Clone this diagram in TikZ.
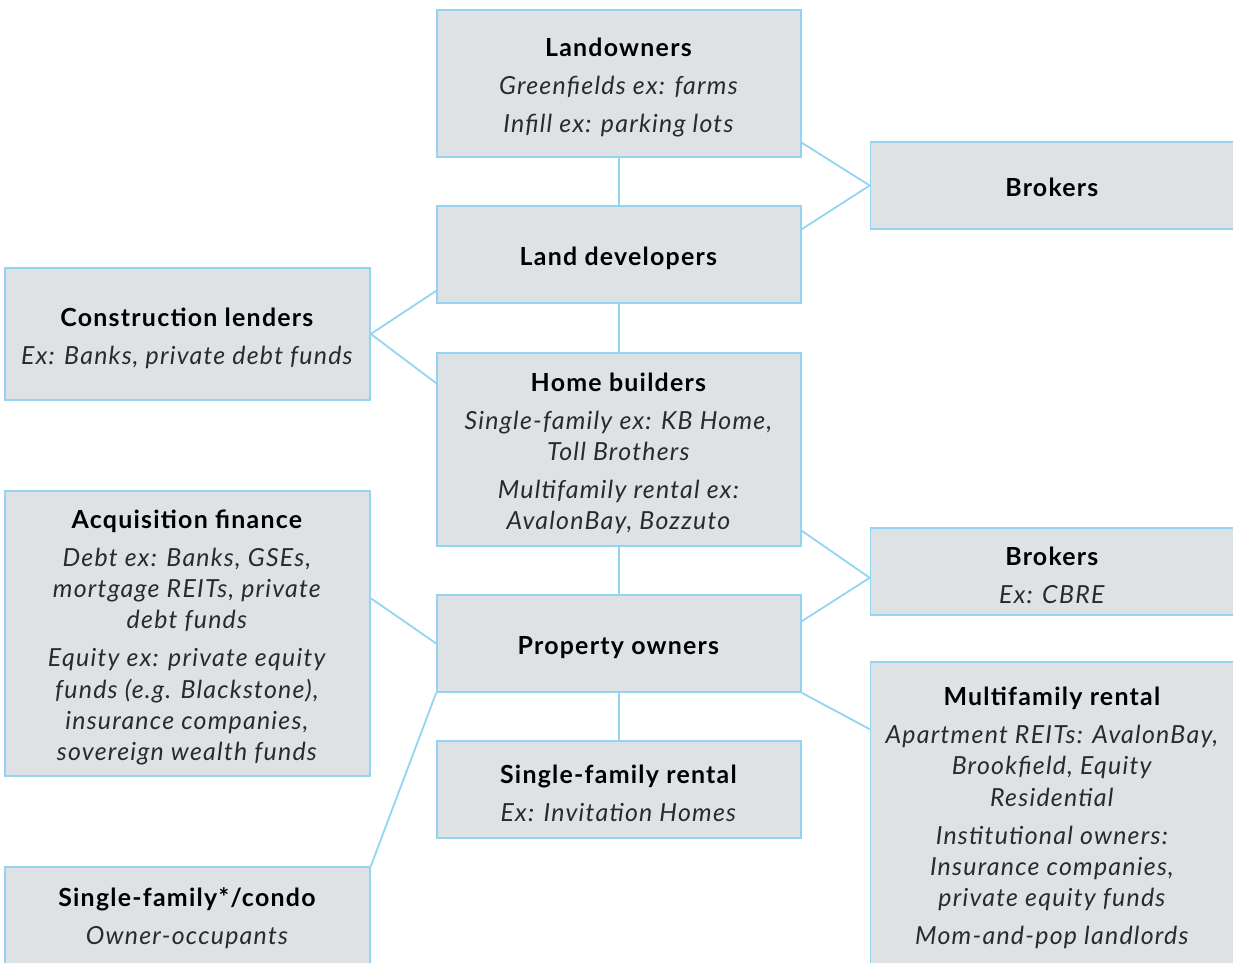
\documentclass[tikz,border=0pt]{standalone}
\usepackage{fontspec}
\setmainfont{Lato}[LetterSpace=5]
\usetikzlibrary{calc}
\definecolor{boxfill}{HTML}{DFE2E5}
\definecolor{boxline}{HTML}{93D5F1}
\definecolor{subtext}{HTML}{2A2A2A}
\newcommand\subl[1]{\textcolor{subtext}{\textit{#1}}}
\tikzset{
  box/.style={draw=boxline, fill=boxfill, line width=1.6bp, inner sep=0pt,
    minimum width=364bp},
  txt/.style={inner sep=0pt, align=center, text=black,
    font=\fontsize{25}{31.5}\selectfont},
  link/.style={draw=boxline, line width=1.8bp}
}
\begin{document}
\begin{tikzpicture}[x=1bp,y=-1bp]
\useasboundingbox (0,0) rectangle (1233,963);
% boxes
\node[box, minimum height=147bp] (lo) at (619,83.5) {};
\node[box, minimum height=87bp] (br1) at (1052.5,185.5) {};
\node[box, minimum height=97bp] (ld) at (619,254.5) {};
\node[box, minimum width=365bp, minimum height=132bp] (cl) at (187.5,334) {};
\node[box, minimum height=193bp] (hb) at (619,449.5) {};
\node[box, minimum width=365bp, minimum height=285bp] (af) at (187.5,633.5) {};
\node[box, minimum height=87bp] (br2) at (1052.5,571.5) {};
\node[box, minimum height=97bp] (po) at (619,643.5) {};
\node[box, minimum height=320bp] (mf) at (1052.5,822) {};
\node[box, minimum height=97bp] (sr) at (619,789.5) {};
\node[box, minimum width=365bp, minimum height=120bp] (sc) at (187.5,927) {};
% texts
\node[txt] (lo-t) at ($(lo.center)+(0,4)$)
  {\textbf{Landowners}\\[6.5bp]\subl{Greenfields ex: farms}\\[6.5bp]\subl{Infill ex: parking lots}};
\node[txt] (br1-t) at ($(br1.center)+(0,2)$) {\textbf{Brokers}};
\node[txt] (ld-t) at ($(ld.center)+(0,4)$) {\textbf{Land developers}};
\node[txt] (cl-t) at ($(cl.center)+(0,4)$)
  {\textbf{Construction lenders}\\[6.5bp]\subl{Ex: Banks, private debt funds}};
\node[txt] (hb-t) at ($(hb.center)+(0,4)$)
  {\textbf{Home builders}\\[6.5bp]\subl{Single-family ex: KB Home,}\\\subl{Toll Brothers}\\[6.5bp]\subl{Multifamily rental ex:}\\\subl{AvalonBay, Bozzuto}};
\node[txt] (af-t) at ($(af.center)+(0,4)$)
  {\textbf{Acquisition finance}\\[6.5bp]\subl{Debt ex: Banks, GSEs,}\\\subl{mortgage REITs, private}\\\subl{debt funds}\\[6.5bp]\subl{Equity ex: private equity}\\\subl{funds (e.g. Blackstone),}\\\subl{insurance companies,}\\\subl{sovereign wealth funds}};
\node[txt] (br2-t) at ($(br2.center)+(0,4)$)
  {\textbf{Brokers}\\[6.5bp]\subl{Ex: CBRE}};
\node[txt] (po-t) at ($(po.center)+(0,4)$) {\textbf{Property owners}};
\node[txt] (mf-t) at (1052.5,818)
  {\textbf{Multifamily rental}\\[6.5bp]\subl{Apartment REITs: AvalonBay,}\\\subl{Brookfield, Equity}\\\subl{Residential}\\[6.5bp]\subl{Institutional owners:}\\\subl{Insurance companies,}\\\subl{private equity funds}\\[6.5bp]\subl{Mom-and-pop landlords}};
\node[txt] (sr-t) at ($(sr.center)+(0,4)$)
  {\textbf{Single-family rental}\\[6.5bp]\subl{Ex: Invitation Homes}};
\node[txt] (sc-t) at (187.5,918.5)
  {\textbf{Single-family*/condo}\\[6.5bp]\subl{Owner-occupants}};
% connectors
\draw[link] (lo.south) -- (ld.north);
\draw[link] (ld.south) -- (hb.north);
\draw[link] (hb.south) -- (po.north);
\draw[link] (po.south) -- (sr.north);
\draw[link] ($(lo.south east)+(0,-15)$) -- (br1.west);
\draw[link] ($(ld.north east)+(0,24)$) -- (br1.west);
\draw[link] (cl.east) -- ($(ld.south west)+(0,-13)$);
\draw[link] (cl.east) -- ($(hb.north west)+(0,31)$);
\coordinate (b2) at ($(br2.south west)+(0,-38)$);
\draw[link] ($(hb.south east)+(0,-16)$) -- (b2);
\draw[link] ($(po.north east)+(0,27)$) -- (b2);
\draw[link] (po.south east) -- ($(mf.north west)+(0,68)$);
\draw[link] ($(af.north east)+(0,108)$) -- (po.west);
\draw[link] (po.south west) -- (sc.north east);
\end{tikzpicture}
\end{document}
